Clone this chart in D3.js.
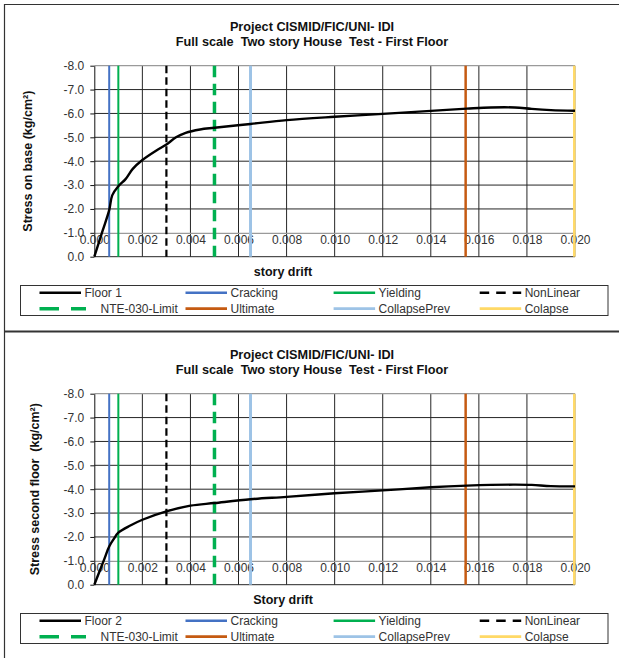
<!DOCTYPE html>
<html>
<head>
<meta charset="utf-8">
<script src="https://cdn.jsdelivr.net/npm/d3@7"></script>
<style>
  html, body { margin: 0; padding: 0; background: #fff; }
  svg { display: block; font-family: "Liberation Sans", Arial, sans-serif; }
</style>
</head>
<body>
<svg id="chart" width="619" height="658"></svg>
<script>
// ---------------- DATA ----------------
const titleLine1 = "Project CISMID/FIC/UNI- IDI";
const titleLine2 = "Full scale  Two story House  Test - First Floor";

const drift1 = [0, 0.00035, 0.00062, 0.00075, 0.0010, 0.0013, 0.0016, 0.0020, 0.0026, 0.0030, 0.0034, 0.0038, 0.0044, 0.0050, 0.0065, 0.0080, 0.0100, 0.0120, 0.0140, 0.0155, 0.0165, 0.0175, 0.0182, 0.0190, 0.0200];
const stress1 = [0, -1.1, -1.95, -2.58, -2.95, -3.25, -3.68, -4.05, -4.46, -4.70, -5.00, -5.19, -5.33, -5.40, -5.56, -5.72, -5.86, -5.98, -6.11, -6.20, -6.25, -6.25, -6.19, -6.14, -6.11];

const drift2 = [0, 0.0004, 0.00062, 0.0008, 0.0010, 0.0015, 0.0020, 0.0030, 0.0040, 0.0050, 0.0065, 0.0080, 0.0100, 0.0120, 0.0140, 0.0155, 0.0165, 0.0175, 0.0182, 0.0190, 0.0200];
const stress2 = [0, -1.03, -1.6, -1.9, -2.18, -2.48, -2.72, -3.07, -3.31, -3.42, -3.58, -3.68, -3.83, -3.95, -4.08, -4.15, -4.18, -4.19, -4.18, -4.13, -4.12];

const markerNames = ["Cracking", "Yielding", "NonLinear", "NTE-030-Limit", "Ultimate", "CollapsePrev", "Colapse"];
const markerDrift = [0.00062, 0.0010, 0.0030, 0.0050, 0.01545, 0.0065, 0.01997];
const markerColors = ["#4472C4", "#00B050", "#000000", "#00B050", "#C55A11", "#9DC3E6", "#FFD966"];

const xTicks = [0, 0.002, 0.004, 0.006, 0.008, 0.010, 0.012, 0.014, 0.016, 0.018, 0.020];
const xTickLabels = ["0.000", "0.002", "0.004", "0.006", "0.008", "0.010", "0.012", "0.014", "0.016", "0.018", "0.020"];
const yTicks = [0, -1, -2, -3, -4, -5, -6, -7, -8];
const yTickLabels = ["0.0", "-1.0", "-2.0", "-3.0", "-4.0", "-5.0", "-6.0", "-7.0", "-8.0"];

const panels = [
  { floorName: "Floor 1", yTitle: "Stress on base (kg/cm²)", xTitle: "story drift", drift: drift1, stress: stress1, offset: 0, yTitleX: 28 },
  { floorName: "Floor 2", yTitle: "Stress second floor  (kg/cm²)", xTitle: "Story drift", drift: drift2, stress: stress2, offset: 328, yTitleX: 35 }
];

// ---------------- STYLE ----------------
const markerStyle = {
  "Cracking":      { w: 2,   dash: null,    legendDash: null },
  "Yielding":      { w: 2,   dash: null,    legendDash: null },
  "NonLinear":     { w: 2.2, dash: "7.5,4", legendDash: "9.5,7" },
  "NTE-030-Limit": { w: 3.5, dash: "11.5,6.5", legendDash: "19.5,12" },
  "Ultimate":      { w: 2.5, dash: null,    legendDash: null },
  "CollapsePrev":  { w: 3,   dash: null,    legendDash: null },
  "Colapse":       { w: 2.5, dash: null,    legendDash: null }
};

const svg = d3.select("#chart");

// outer frame
svg.append("line").attr("x1", 4).attr("x2", 619).attr("y1", 4.5).attr("y2", 4.5).attr("stroke", "#333").attr("stroke-width", 1.2);
svg.append("line").attr("x1", 4.5).attr("x2", 4.5).attr("y1", 4).attr("y2", 658).attr("stroke", "#333").attr("stroke-width", 1.2);
svg.append("line").attr("x1", 4).attr("x2", 619).attr("y1", 331.5).attr("y2", 331.5).attr("stroke", "#333").attr("stroke-width", 2);

const plotL = 94.3, plotR = 575, plotT = 65.7, plotB = 256.7;

panels.forEach(p => {
  const g = svg.append("g").attr("transform", `translate(0,${p.offset})`);
  const x = d3.scaleLinear().domain([0, 0.02]).range([plotL, plotR]);
  const y = d3.scaleLinear().domain([0, -8]).range([plotB, plotT]);

  // titles
  g.append("text").attr("x", 312).attr("y", 31).attr("text-anchor", "middle")
    .attr("font-weight", "bold").attr("font-size", 12.7).attr("fill", "#111").text(titleLine1);
  g.append("text").attr("x", 312).attr("y", 46).attr("text-anchor", "middle")
    .attr("font-weight", "bold").attr("font-size", 12.7).attr("fill", "#111")
    .style("white-space", "pre").text(titleLine2);

  // horizontal gridlines
  g.append("g").selectAll("line").data(yTicks.filter(v => v !== 0 && v !== -8 && v !== -1)).join("line")
    .attr("x1", plotL).attr("x2", plotR).attr("y1", d => y(d)).attr("y2", d => y(d))
    .attr("stroke", "#262626").attr("stroke-width", 1);
  // vertical gridlines
  g.append("g").selectAll("line").data(xTicks.filter(v => v !== 0 && v !== 0.02)).join("line")
    .attr("x1", d => x(d)).attr("x2", d => x(d)).attr("y1", plotT).attr("y2", plotB)
    .attr("stroke", "#262626").attr("stroke-width", 1);
  // plot border (top/right gray)
  g.append("line").attr("x1", plotL).attr("x2", plotR).attr("y1", plotT).attr("y2", plotT).attr("stroke", "#9a9a9a").attr("stroke-width", 1.2);
  g.append("line").attr("x1", plotR).attr("x2", plotR).attr("y1", plotT).attr("y2", plotB).attr("stroke", "#9a9a9a").attr("stroke-width", 1.2);
  g.append("line").attr("x1", plotL).attr("x2", plotR).attr("y1", plotB).attr("y2", plotB).attr("stroke", "#262626").attr("stroke-width", 1);

  // x axis crossing at -1.0
  const xAxis = d3.axisBottom(x).tickValues(xTicks).tickFormat((d, i) => xTickLabels[i]).tickSize(0).tickPadding(3);
  const xg = g.append("g").attr("transform", `translate(0,${y(-1)})`).call(xAxis);
  xg.select(".domain").attr("stroke", "#9a9a9a").attr("stroke-width", 1.2);
  xg.selectAll("text").attr("font-size", 12).attr("fill", "#333").attr("font-family", "Liberation Sans, Arial, sans-serif");

  // y axis
  const yAxis = d3.axisLeft(y).tickValues(yTicks).tickFormat((d, i) => yTickLabels[i]).tickSize(4).tickSizeOuter(0).tickPadding(6);
  const yg = g.append("g").attr("transform", `translate(${plotL},0)`).call(yAxis);
  yg.select(".domain").attr("stroke", "#111").attr("stroke-width", 1);
  yg.selectAll(".tick line").attr("stroke", "#111");
  yg.selectAll("text").attr("font-size", 12).attr("fill", "#333").attr("font-family", "Liberation Sans, Arial, sans-serif");

  // marker vertical lines
  markerNames.forEach((name, i) => {
    const st = markerStyle[name];
    const ln = g.append("line").attr("x1", x(markerDrift[i])).attr("x2", x(markerDrift[i]))
      .attr("y1", plotT).attr("y2", plotB).attr("stroke", markerColors[i]).attr("stroke-width", st.w);
    if (st.dash) ln.attr("stroke-dasharray", st.dash);
  });

  // data curve
  const pts = p.drift.map((d, i) => [d, p.stress[i]]);
  const line = d3.line().x(d => x(d[0])).y(d => y(d[1])).curve(d3.curveCatmullRom.alpha(0.5));
  g.append("path").datum(pts).attr("d", line).attr("fill", "none").attr("stroke", "#000").attr("stroke-width", 2.4);

  // axis titles
  g.append("text").attr("transform", `translate(${p.yTitleX + 4},${(plotT + plotB) / 2}) rotate(-90)`)
    .attr("text-anchor", "middle").attr("font-weight", "bold").attr("font-size", 12.5).attr("fill", "#111")
    .style("white-space", "pre").text(p.yTitle);
  g.append("text").attr("x", 283).attr("y", 276).attr("text-anchor", "middle")
    .attr("font-weight", "bold").attr("font-size", 12.5).attr("fill", "#111").text(p.xTitle);

  // legend
  g.append("rect").attr("x", 20.5).attr("y", 285.5).attr("width", 587.5).attr("height", 30)
    .attr("fill", "#fff").attr("stroke", "#333").attr("stroke-width", 1);
  const legendItems = [{ name: p.floorName, color: "#000", w: 2.4, dash: null }]
    .concat(markerNames.map((n, i) => ({ name: n, color: markerColors[i], w: markerStyle[n].w, dash: markerStyle[n].legendDash })));
  const colX = [39.5, 185.5, 333.6, 479.7];
  const rowY = [292.7, 308.7];
  legendItems.forEach((it, i) => {
    const cx = colX[i % 4], cy = rowY[Math.floor(i / 4)];
    const isNTE = it.name === "NTE-030-Limit";
    const len = isNTE ? 46.5 : 41.5;
    const ln = g.append("line").attr("x1", cx).attr("x2", cx + len).attr("y1", cy).attr("y2", cy)
      .attr("stroke", it.color).attr("stroke-width", isNTE ? 3.5 : (it.w > 2.4 ? 2.8 : 2.5));
    if (it.dash) ln.attr("stroke-dasharray", it.dash);
    g.append("text").attr("x", isNTE ? 100.5 : cx + 45).attr("y", cy + 4.3)
      .attr("font-size", 12).attr("fill", "#333").text(it.name);
  });
});
</script>
</body>
</html>
